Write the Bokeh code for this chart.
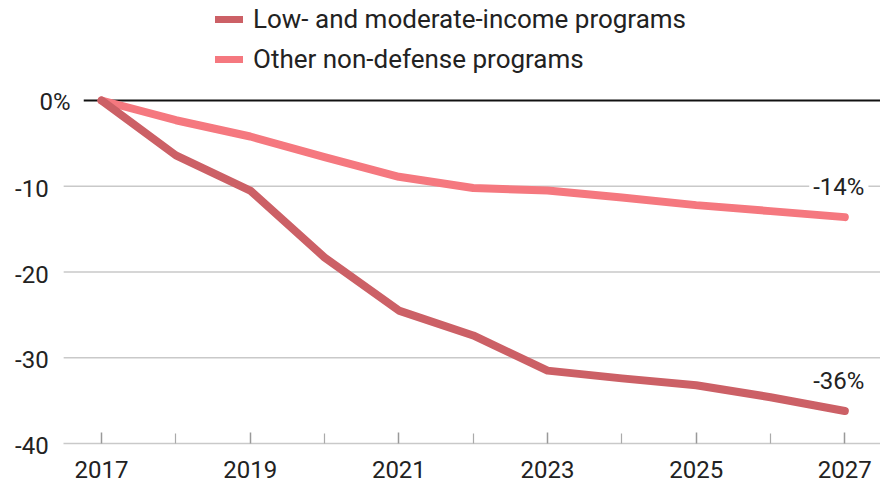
from bokeh.plotting import figure
from bokeh.models import ColumnDataSource, Range1d, FixedTicker, Legend, LegendItem
from bokeh.core.properties import value
from bokeh.embed import file_html
from bokeh.resources import INLINE

# ---- data ----
years = [2017, 2018, 2019, 2020, 2021, 2022, 2023, 2024, 2025, 2026, 2027]
low_moderate = [0, -6.4, -10.5, -18.3, -24.5, -27.4, -31.5, -32.4, -33.2, -34.6, -36.2]
other_nondefense = [0, -2.3, -4.2, -6.6, -8.9, -10.2, -10.5, -11.3, -12.2, -12.9, -13.6]
series_names = ["Low- and moderate-income programs", "Other non-defense programs"]
x_major_ticks = [2017, 2019, 2021, 2023, 2025, 2027]
x_minor_ticks = [2018, 2020, 2022, 2024, 2026]
y_ticks = [0, -10, -20, -30, -40]
y_tick_labels = ["0%", "-10", "-20", "-30", "-40"]
end_labels = ["-36%", "-14%"]

# ---- styling ----
FONT = "Roboto"
TXT = "#222222"
C_LOW = "#cc6066"
C_OTHER = "#f5787f"
GRID = "#c9c9c9"

x_start, x_end = 2015.64, 2027.48     # full canvas width
y_start, y_end = -45.36, 11.66        # full canvas height
grid_start = 2016.49                  # where the grid lines begin (after the labels)
zero_start = 2016.76                  # zero line begins after the "0%" label
y_floor = min(y_ticks)

p = figure(width=880, height=489, output_backend="svg", toolbar_location=None,
           x_range=Range1d(x_start, x_end), y_range=Range1d(y_start, y_end),
           min_border_left=0, min_border_right=0, min_border_top=0,
           min_border_bottom=0)
p.outline_line_color = None
p.background_fill_color = "white"
p.border_fill_color = "white"
p.xgrid.visible = False
p.ygrid.visible = False
p.yaxis.visible = False

# horizontal grid lines (from the tick values)
grid_vals = [t for t in y_ticks if t not in (0, y_floor)]
p.segment(x0=[grid_start] * len(grid_vals), y0=grid_vals,
          x1=[x_end] * len(grid_vals), y1=grid_vals,
          line_color=GRID, line_width=1.5)
# zero line
p.segment(x0=[zero_start], y0=[0], x1=[x_end], y1=[0], line_color="#111111", line_width=1.8)

# y tick labels ("%" of the zero label hangs to the right)
ysrc = ColumnDataSource(dict(x=[grid_start] * len(y_ticks), y=y_ticks, text=y_tick_labels,
                             xo=[7 if t == 0 else -15 for t in y_ticks]))
p.text(x="x", y="y", text="text", source=ysrc, x_offset="xo", y_offset=2,
       text_align="right", text_baseline="middle", text_font=value(FONT),
       text_font_size="24px", text_color=TXT)

# x axis, pinned at the -40 line
xa = p.xaxis[0]
xa.fixed_location = y_floor
xa.bounds = (grid_start, x_end)
xa.ticker = FixedTicker(ticks=x_major_ticks, minor_ticks=x_minor_ticks)
xa.axis_line_color = GRID
xa.axis_line_width = 1.5
xa.major_tick_in = 11
xa.major_tick_out = 0
xa.minor_tick_in = 10
xa.minor_tick_out = 0
xa.major_tick_line_color = "#999999"
xa.minor_tick_line_color = "#aaaaaa"
xa.major_tick_line_width = 1.5
xa.minor_tick_line_width = 1.2
xa.major_label_text_font = FONT
xa.major_label_text_font_size = "24px"
xa.major_label_text_color = TXT
xa.major_label_standoff = 17

# lines
src = ColumnDataSource(dict(year=years, low=low_moderate, other=other_nondefense))
r_other = p.line("year", "other", source=src, line_color=C_OTHER, line_width=8,
                 line_cap="round", line_join="round")
r_low = p.line("year", "low", source=src, line_color=C_LOW, line_width=8,
               line_cap="round", line_join="round")

# end labels
esrc = ColumnDataSource(dict(x=[years[-1], years[-1]],
                             y=[low_moderate[-1], other_nondefense[-1]],
                             text=end_labels))
p.text(x="x", y="y", text="text", source=esrc, x_offset=-6, y_offset=-30,
       text_align="center", text_baseline="middle", text_font=value(FONT),
       text_font_size="24px", text_color=TXT, background_fill_color="white",
       padding=4)

# legend
legend = Legend(items=[LegendItem(label=series_names[0], renderers=[r_low]),
                       LegendItem(label=series_names[1], renderers=[r_other])],
                location=(215, 415), orientation="vertical",
                padding=0, margin=0, spacing=10, glyph_width=28, glyph_height=7,
                label_standoff=10, label_text_font=FONT, label_text_font_size="26px",
                label_text_color=TXT, border_line_color=None,
                background_fill_alpha=0)
p.add_layout(legend)

open("out.html", "w").write(file_html(p, INLINE))
